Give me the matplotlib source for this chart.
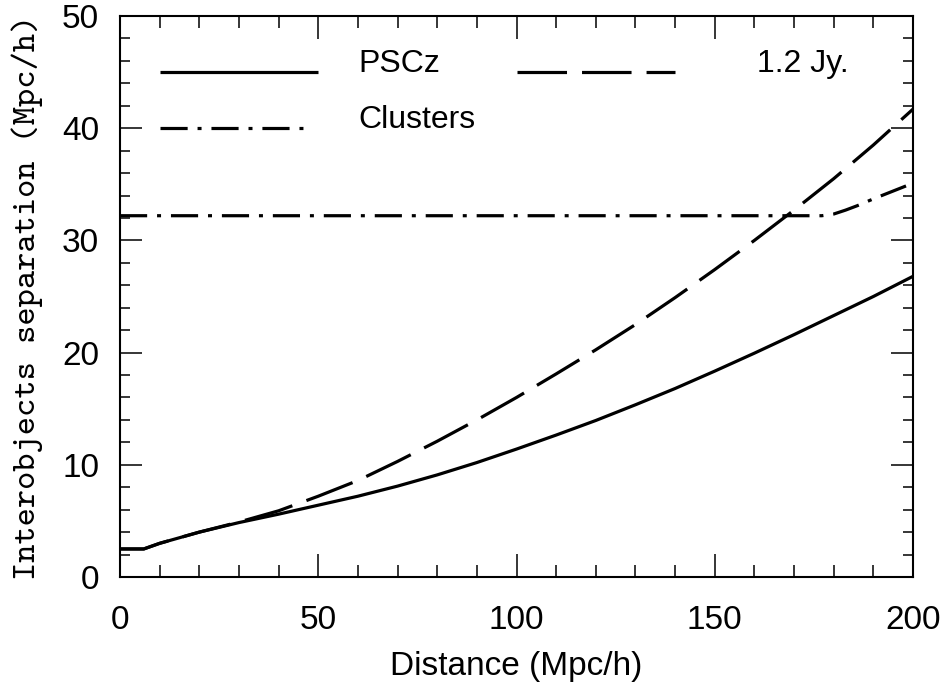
import matplotlib
matplotlib.use("Agg")
import matplotlib.pyplot as plt
from matplotlib.ticker import MultipleLocator

# ---- data ----
pscz_x = [0, 6, 10, 20, 30, 40, 50, 60, 70, 80, 90, 100, 110, 120, 130, 140,
          150, 160, 170, 180, 190, 200]
pscz_y = [2.5, 2.5, 3.0, 4.0, 4.85, 5.6, 6.4, 7.2, 8.1, 9.1, 10.2, 11.4, 12.65,
          13.95, 15.35, 16.8, 18.35, 19.95, 21.6, 23.3, 25.0, 26.8]

jy_x = [0, 6, 10, 20, 30, 40, 50, 60, 70, 80, 90, 100, 110, 120, 130, 140,
        150, 160, 170, 180, 190, 200]
jy_y = [2.5, 2.5, 3.0, 4.0, 4.9, 5.9, 7.2, 8.6, 10.3, 12.1, 14.0, 16.0, 18.1,
        20.25, 22.5, 24.9, 27.4, 30.0, 32.7, 35.5, 38.5, 41.7]

clus_x = [0, 177, 180, 183, 186, 190, 195, 200]
clus_y = [32.2, 32.2, 32.35, 32.7, 33.1, 33.7, 34.4, 35.1]

labels = ["PSCz", "1.2 Jy.", "Clusters"]
xlabel = "Distance (Mpc/h)"
ylabel = "Interobjects separation (Mpc/h)"

plt.rcParams['font.family'] = ['Liberation Sans', 'DejaVu Sans']

W, H = 950, 698
fig = plt.figure(figsize=(W / 100, H / 100), dpi=100)
ax = fig.add_axes([120 / W, (H - 577) / H, 793 / W, 561 / H])

LW = 2.3
solid_style = dict(color='black', lw=LW, solid_capstyle='butt')
dash_pat = (15.5, 4.7)
dashdot_pat = (8.5, 3.1, 1.25, 3.1)

ax.plot(pscz_x, pscz_y, **solid_style)
l2, = ax.plot(jy_x, jy_y, color='black', lw=LW, dash_capstyle='butt')
l2.set_dashes(dash_pat)
l3, = ax.plot(clus_x, clus_y, color='black', lw=LW, dash_capstyle='butt')
l3.set_dashes(dashdot_pat)

# legend drawn by hand to match placement
tr = ax.transAxes
ax.plot([0.050, 0.250], [0.900, 0.900], transform=tr, **solid_style)
la, = ax.plot([0.501, 0.700], [0.900, 0.900], transform=tr, color='black',
              lw=LW, dash_capstyle='butt')
la.set_dashes(dash_pat)
lb, = ax.plot([0.050, 0.240], [0.800, 0.800], transform=tr, color='black',
              lw=LW, dash_capstyle='butt')
lb.set_dashes(dashdot_pat)
ax.text(0.300, 0.900, labels[0], transform=tr, fontsize=23, va='baseline', ha='left')
ax.text(0.803, 0.900, labels[1], transform=tr, fontsize=23, va='baseline', ha='left')
ax.text(0.300, 0.800, labels[2], transform=tr, fontsize=23, va='baseline', ha='left')

ax.set_xlim(0, 200)
ax.set_ylim(0, 50)
ax.xaxis.set_major_locator(MultipleLocator(50))
ax.xaxis.set_minor_locator(MultipleLocator(10))
ax.yaxis.set_major_locator(MultipleLocator(10))
ax.yaxis.set_minor_locator(MultipleLocator(2))

for s in ax.spines.values():
    s.set_linewidth(1.5)

ax.tick_params(axis='both', which='both', direction='in', top=True, right=True,
               width=1.1, labelsize=24)
ax.tick_params(axis='x', which='major', length=16.5, pad=20)
ax.tick_params(axis='x', which='minor', length=8.3)
ax.tick_params(axis='y', which='major', length=16, pad=15)
ax.tick_params(axis='y', which='minor', length=7.5)

fig.text(516 / W, (H - 675) / H, xlabel, fontsize=24, ha='center', va='baseline')
fig.text(27 / W, (H - 297) / H, ylabel, fontsize=25, rotation=90,
         ha='center', va='center', family=['cmtt10', 'DejaVu Sans Mono'])

fig.savefig("out.png", dpi=100)
